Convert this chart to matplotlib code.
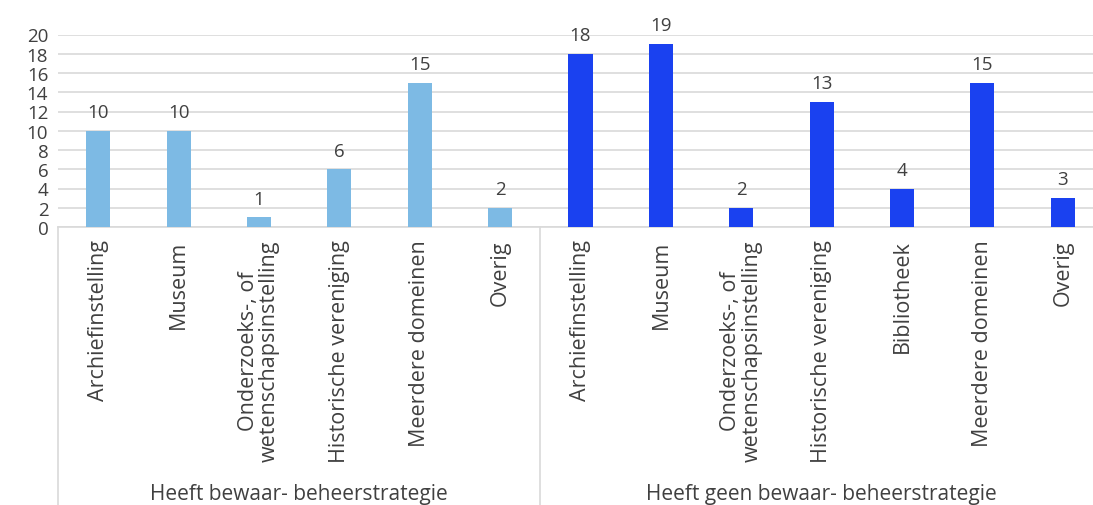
import matplotlib.pyplot as plt
from matplotlib.lines import Line2D
from matplotlib.transforms import blended_transform_factory

plt.rcParams['font.family'] = ['Open Sans', 'DejaVu Sans']

# categories per group
cats_met = ["Archiefinstelling", "Museum", "Onderzoeks-, of\nwetenschapsinstelling",
            "Historische vereniging", "Meerdere domeinen", "Overig"]
cats_zonder = ["Archiefinstelling", "Museum", "Onderzoeks-, of\nwetenschapsinstelling",
               "Historische vereniging", "Bibliotheek", "Meerdere domeinen", "Overig"]
vals_met = [10, 10, 1, 6, 15, 2]
vals_zonder = [18, 19, 2, 13, 4, 15, 3]
groups = ["Heeft bewaar- beheerstrategie", "Heeft geen bewaar- beheerstrategie"]

light = "#7dbae4"
dark = "#1a41f0"
txt = "#404040"
grid = "#d9d9d9"

W, H = 1093, 506
fig = plt.figure(figsize=(W / 100, H / 100), dpi=100)
# the plot area runs a little past the right edge of the canvas
ax = fig.add_axes([58 / W, (H - 228) / H, (1103 - 58) / W, (228 - 35.5) / H])

labels = cats_met + cats_zonder
vals = vals_met + vals_zonder
colors = [light] * len(vals_met) + [dark] * len(vals_zonder)
x = list(range(len(vals)))

bars = ax.bar(x, vals, width=0.3, color=colors, zorder=3)
for b, v in zip(bars, vals):
    ax.annotate(str(v), (b.get_x() + b.get_width() / 2, v), xytext=(0, 7),
                textcoords="offset points", ha="center", va="bottom",
                fontsize=13.5, color=txt)

ax.set_xlim(-0.5, len(vals) - 0.5)
ax.set_ylim(0, 20)
ax.set_yticks(range(0, 21, 2))
ax.tick_params(axis="y", length=0, labelsize=13.5, labelcolor=txt, pad=7)
ax.yaxis.grid(True, color=grid, linewidth=1.2, zorder=0)
for s in ["top", "right", "left"]:
    ax.spines[s].set_visible(False)
ax.spines["bottom"].set_color(grid)
ax.spines["bottom"].set_linewidth(1.2)

ax.set_xticks(x)
ax.set_xticklabels(labels, rotation=90, fontsize=15.5, color=txt,
                   va="top", ha="center", multialignment="center", linespacing=1.0)
ax.tick_params(axis="x", length=0, pad=9)

# group separators and group titles below the axis
tr = blended_transform_factory(ax.transData, fig.transFigure)
n1 = len(vals_met)
for xs in [-0.5, n1 - 0.5]:
    fig.add_artist(Line2D([xs, xs], [0, (H - 228) / H], transform=tr,
                          color=grid, linewidth=1.2))
fig.text((n1 - 1) / 2, (H - 495) / H, groups[0], transform=tr, ha="center", va="center",
         fontsize=15, color=txt)
fig.text(n1 + (len(vals_zonder) - 1) / 2, (H - 495) / H, groups[1], transform=tr,
         ha="center", va="center", fontsize=15, color=txt)

fig.savefig("out.png", dpi=100)
